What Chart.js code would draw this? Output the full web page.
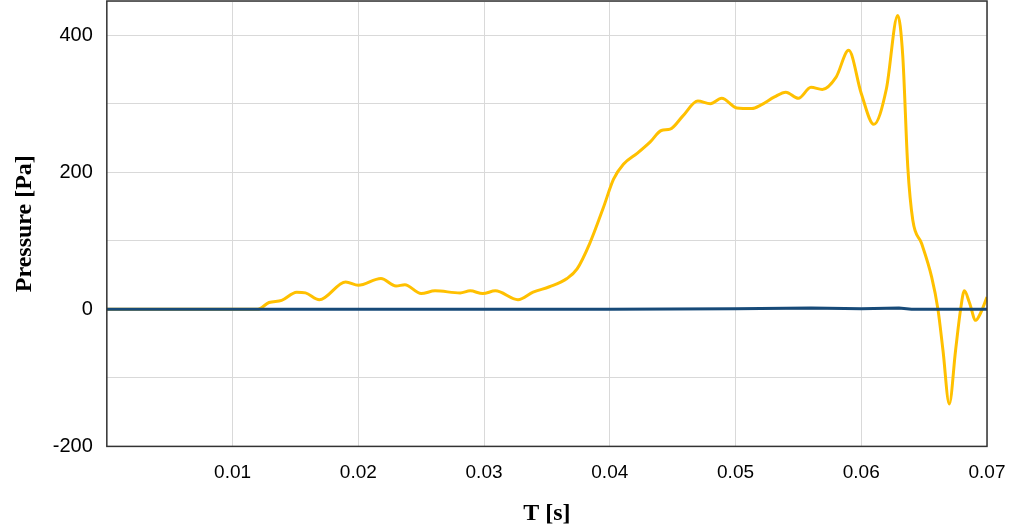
<!DOCTYPE html>
<html>
<head>
<meta charset="utf-8">
<script src="https://cdn.jsdelivr.net/npm/chart.js@4"></script>
<style>
  body { margin: 0; background: #fff; }
  #wrap { width: 1009px; height: 529px; }
</style>
</head>
<body>
<div id="wrap"><canvas id="pressureChart" width="1009" height="529"></canvas></div>
<script>
// sensor trace (yellow)
const timeA = [0, 0.0120, 0.0129, 0.0139, 0.0151, 0.0158, 0.0169, 0.0190, 0.0200, 0.0218,
    0.0230, 0.0237, 0.0250, 0.0261, 0.0281, 0.0289, 0.0299, 0.0309, 0.0327, 0.0339,
    0.0352, 0.0366, 0.0374, 0.0384, 0.0395, 0.0403, 0.0411, 0.0422, 0.0432, 0.0441,
    0.0448, 0.0458, 0.0470, 0.0480, 0.0489, 0.0501, 0.0513, 0.0520, 0.0531, 0.0540,
    0.0550, 0.0560, 0.0569, 0.0580, 0.0590, 0.0600, 0.0610, 0.0620, 0.0629, 0.0633,
    0.0637, 0.0641, 0.0648, 0.0656, 0.0661, 0.0665, 0.0670, 0.0675, 0.0679, 0.0682,
    0.0686, 0.0691, 0.0695, 0.0700];
const pressureA = [0, 0, 10, 13, 25, 24, 14, 40, 35, 45,
    34, 36, 23, 27, 24, 27, 23, 27, 14, 25,
    33, 45, 59, 96, 149, 190, 212, 228, 244, 261,
    263, 282, 304, 300, 308, 294, 293, 298, 310, 317,
    308, 324, 321, 339, 378, 315, 270, 322, 429, 370,
    208, 130, 96, 47, 0, -60, -138, -60, 0, 27,
    10, -16, -5, 18];

// reference trace (blue)
const timeB = [0, 0.02, 0.04, 0.05, 0.056, 0.06, 0.063, 0.064, 0.07];
const pressureB = [0, 0, 0, 1, 2, 1, 2, 0, 0];

const yLabels = [-200, 0, 200, 400];

const frame = {
    id: "frame",
    afterDraw(chart) {
        const a = chart.chartArea, ctx = chart.ctx;
        ctx.save();
        ctx.strokeStyle = "#333";
        ctx.lineWidth = 1.5;
        ctx.strokeRect(a.left, a.top, a.right - a.left, a.bottom - a.top);
        ctx.restore();
    }
};

new Chart(document.getElementById("pressureChart"), {
    type: "line",
    data: {
        datasets: [{
            label: "B",
            data: timeB.map((t, i) => ({ x: t, y: pressureB[i] })),
            borderColor: "#174a78",
            borderWidth: 3,
            pointRadius: 0,
            order: 0
        }, {
            label: "A",
            data: timeA.map((t, i) => ({ x: t, y: pressureA[i] })),
            borderColor: "#ffc000",
            borderWidth: 3,
            pointRadius: 0,
            cubicInterpolationMode: "monotone",
            order: 1
        }]
    },
    options: {
        responsive: false,
        animation: false,
        layout: { padding: { left: 10, right: 22, top: 1, bottom: 1 } },
        plugins: { legend: { display: false }, tooltip: { enabled: false } },
        scales: {
            x: {
                type: "linear",
                min: 0,
                max: 0.07,
                afterFit: s => { s.paddingRight = 0; },
                ticks: {
                    stepSize: 0.01,
                    padding: 15,
                    color: "#000",
                    font: { family: "Liberation Sans", size: 19 },
                    callback: v => v === 0 ? "" : v.toFixed(2)
                },
                grid: { color: "#d9d9d9", drawTicks: false },
                border: { display: false },
                title: {
                    display: true,
                    text: "T [s]",
                    color: "#000",
                    font: { family: "Liberation Serif", size: 24, weight: "bold" },
                    padding: { top: 0, bottom: 0 }
                }
            },
            y: {
                min: -200,
                max: 450,
                afterFit: s => { s.paddingTop = 0; },
                ticks: {
                    stepSize: 100,
                    padding: 14,
                    color: "#000",
                    font: { family: "Liberation Sans", size: 20 },
                    callback: v => yLabels.includes(v) ? String(v) : ""
                },
                grid: { color: "#d9d9d9", drawTicks: false },
                border: { display: false },
                title: {
                    display: true,
                    text: "Pressure [Pa]",
                    color: "#000",
                    font: { family: "Liberation Serif", size: 24, weight: "bold" },
                    padding: { top: 0, bottom: 0 }
                }
            }
        }
    },
    plugins: [frame]
});
</script>
</body>
</html>
